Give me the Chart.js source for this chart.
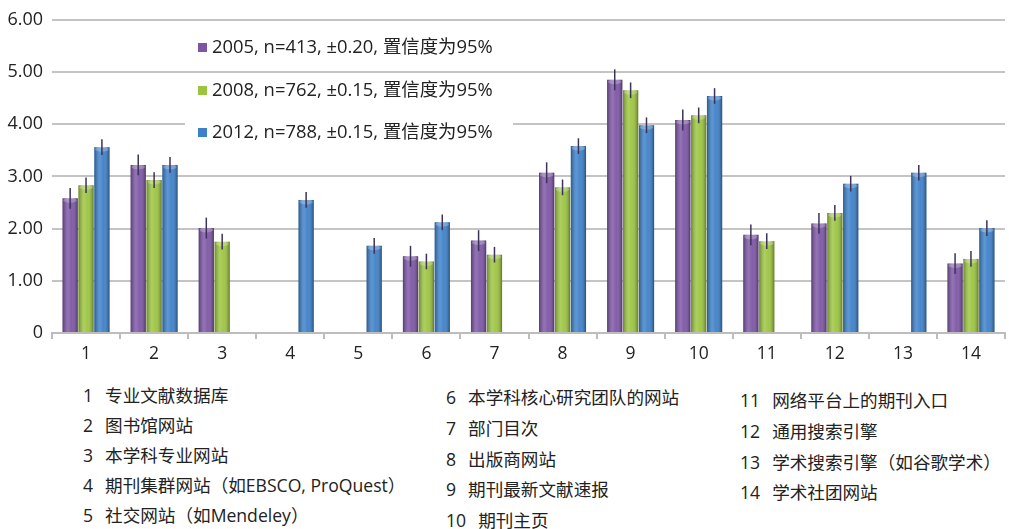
<!DOCTYPE html>
<html>
<head>
<meta charset="utf-8">
<script src="https://cdn.jsdelivr.net/npm/chart.js@4.4.1/dist/chart.umd.min.js"></script>
<style>
  body { margin: 0; background: #fff; width: 1009px; height: 529px; overflow: hidden; position: relative;
         font-family: "Open Sans", "Noto Sans CJK SC", sans-serif; color: #222; }
  #chart { position: absolute; left: 0; top: 0; }
  .legend { position: absolute; left: 185px; font-size: 18.4px; color: #222; white-space: nowrap; background: #fff; padding: 0 20px 0 13px; line-height: 24px; }
  .legend i { display: inline-block; width: 9px; height: 9px; margin-right: 5px; vertical-align: 1px; }
  .names { position: absolute; font-size: 17.6px; color: #222; white-space: nowrap; }
  .names div { line-height: 24px; }
  .names span.n { display: inline-block; margin-right: 12px; }
</style>
</head>
<body>
<canvas id="chart" width="1009" height="372"></canvas>
<div id="legendBox"></div>
<div id="namesBox"></div>
<script>
// 类别（横轴 1-14）
const categories = ['1', '2', '3', '4', '5', '6', '7', '8', '9', '10', '11', '12', '13', '14'];
const categoryNames = [
    '专业文献数据库', '图书馆网站', '本学科专业网站', '期刊集群网站（如EBSCO, ProQuest）',
    '社交网站（如Mendeley）', '本学科核心研究团队的网站', '部门目次', '出版商网站',
    '期刊最新文献速报', '期刊主页', '网络平台上的期刊入口', '通用搜索引擎',
    '学术搜索引擎（如谷歌学术）', '学术社团网站'
];

// 各年份数值（null = 该年未调查）
const values2005 = [2.58, 3.22, 2.01, null, null, 1.47, 1.77, 3.07, 4.85, 4.08, 1.88, 2.10, null, 1.33];
const values2008 = [2.83, 2.93, 1.75, null, null, 1.37, 1.50, 2.79, 4.65, 4.17, 1.76, 2.30, null, 1.42];
const values2012 = [3.56, 3.22, null, 2.55, 1.67, 2.12, null, 3.58, 3.98, 4.54, null, 2.86, 3.07, 2.01];
const errors = [0.20, 0.15, 0.15];

const seriesLabels = [
    '2005, n=413, ±0.20, 置信度为95%',
    '2008, n=762, ±0.15, 置信度为95%',
    '2012, n=788, ±0.15, 置信度为95%'
];
const seriesColors = ['#7c55a5', '#9cc43f', '#3c80c9'];
const yTicks = [0, 1, 2, 3, 4, 5, 6];

// 柱子的立体阴影 + 误差线
const barStylePlugin = {
    id: 'barStyle',
    afterDatasetsDraw(chart) {
        const ctx = chart.ctx;
        const yScale = chart.scales.y;
        chart.data.datasets.forEach((ds, i) => {
            const meta = chart.getDatasetMeta(i);
            meta.data.forEach((bar, j) => {
                const v = ds.data[j];
                if (v === null) return;
                const left = bar.x - bar.width / 2;
                const g = ctx.createLinearGradient(left, 0, left + bar.width, 0);
                g.addColorStop(0, 'rgba(0,0,0,0.3)');
                g.addColorStop(0.35, 'rgba(255,255,255,0.18)');
                g.addColorStop(0.6, 'rgba(255,255,255,0.05)');
                g.addColorStop(1, 'rgba(0,0,0,0.38)');
                ctx.save();
                ctx.fillStyle = g;
                ctx.fillRect(left, bar.y, bar.width, bar.base - bar.y);
                // 顶部高光
                ctx.fillStyle = 'rgba(255,255,255,0.25)';
                ctx.beginPath();
                ctx.ellipse(bar.x, bar.y + 2, bar.width / 2 - 1, 2.5, 0, 0, Math.PI * 2);
                ctx.fill();
                // 误差线
                const e = errors[i];
                ctx.strokeStyle = '#3d3358';
                ctx.lineWidth = 1.5;
                ctx.beginPath();
                ctx.moveTo(bar.x, yScale.getPixelForValue(v + e));
                ctx.lineTo(bar.x, yScale.getPixelForValue(v - e));
                ctx.stroke();
                ctx.restore();
            });
        });
    }
};

const fontFamily = '"Open Sans", "Noto Sans CJK SC", sans-serif';

new Chart(document.getElementById('chart'), {
    type: 'bar',
    data: {
        labels: categories,
        datasets: [values2005, values2008, values2012].map((d, i) => ({
            label: seriesLabels[i],
            data: d,
            backgroundColor: seriesColors[i],
            borderWidth: 0,
            categoryPercentage: 0.7,
            barPercentage: 0.96
        }))
    },
    options: {
        responsive: false,
        animation: false,
        layout: { padding: { top: 17, right: 4, left: 0, bottom: 0 } },
        plugins: { legend: { display: false }, tooltip: { enabled: false } },
        scales: {
            x: {
                offset: true,
                grid: { display: true, drawOnChartArea: false, drawTicks: true, tickLength: 6, offset: true, color: '#bdbdbd', lineWidth: 2 },
                border: { display: true, color: '#bdbdbd', width: 2 },
                ticks: { color: '#222', font: { family: fontFamily, size: 17.5 }, padding: 5 },
                afterFit(scale) { scale.height = 39; }
            },
            y: {
                min: 0,
                max: 6,
                afterBuildTicks(scale) { scale.ticks = yTicks.map(v => ({ value: v })); },
                grid: { color: '#c4c4c4', lineWidth: 2, drawTicks: false },
                border: { display: false },
                ticks: {
                    color: '#222', font: { family: fontFamily, size: 18 }, padding: 9,
                    callback: v => v === 0 ? '0' : v.toFixed(2)
                },
                afterFit(scale) { scale.width = 52; }
            }
        }
    },
    plugins: [barStylePlugin]
});

// 图例（位于绘图区左上）
const legendTops = [34, 77, 119];
document.getElementById('legendBox').innerHTML = seriesLabels.map((t, i) =>
    `<div class="legend" style="top:${legendTops[i]}px"><i style="background:${seriesColors[i]}"></i>${t}</div>`
).join('');

// 底部类别说明
const cols = [
    { left: 83, top: 383, gap: 30, items: [0, 1, 2, 3, 4] },
    { left: 446, top: 385, gap: 30.8, items: [5, 6, 7, 8, 9] },
    { left: 740, top: 388, gap: 30.8, items: [10, 11, 12, 13] }
];
document.getElementById('namesBox').innerHTML = cols.map(c =>
    `<div class="names" style="left:${c.left}px;top:${c.top}px">` +
    c.items.map(k => `<div style="height:${c.gap}px"><span class="n">${categories[k]}</span>${categoryNames[k]}</div>`).join('') +
    `</div>`
).join('');
</script>
</body>
</html>
